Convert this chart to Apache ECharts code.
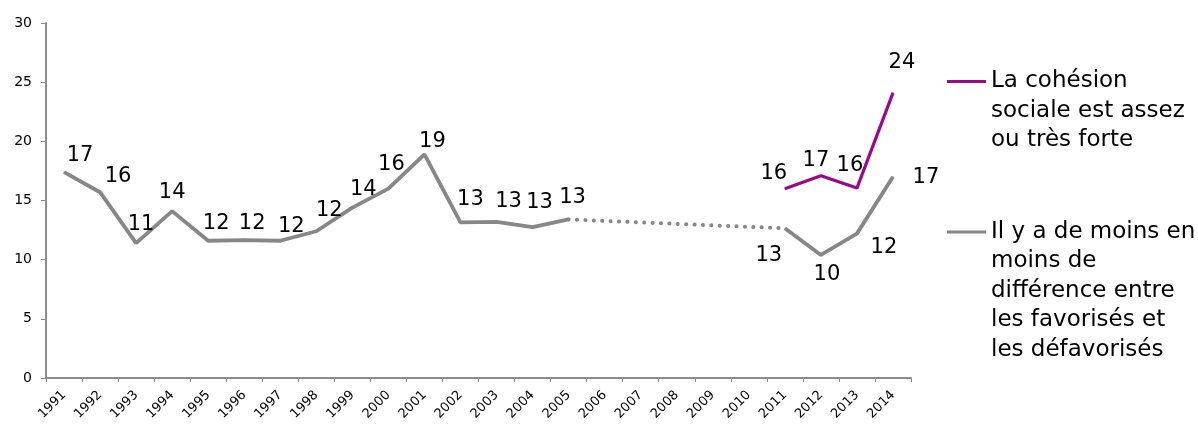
<!DOCTYPE html>
<html>
<head>
<meta charset="utf-8">
<title>Cohésion sociale</title>
<script src="https://cdn.jsdelivr.net/npm/echarts@6/dist/echarts.min.js"></script>
<style>
  html, body { margin: 0; padding: 0; background: #fff; }
  #chart { width: 1198px; height: 424px; }
</style>
</head>
<body>
<div id="chart"></div>
<script>
// Years on the category axis
const years = ['1991','1992','1993','1994','1995','1996','1997','1998','1999','2000',
  '2001','2002','2003','2004','2005','2006','2007','2008','2009','2010',
  '2011','2012','2013','2014'];

// "La cohésion sociale est assez ou très forte" (%), surveyed from 2011 only
const cohesion = ['-','-','-','-','-','-','-','-','-','-',
  '-','-','-','-','-','-','-','-','-','-',
  16.0, 17.1, 16.05, 24.1];

// "Il y a de moins en moins de différence entre les favorisés et les défavorisés" (%)
const difference = [17.4, 15.7, 11.4, 14.1, 11.6, 11.65, 11.6, 12.4, 14.4, 16.0,
  18.9, 13.15, 13.2, 12.75, 13.4, '-', '-', '-', '-', '-',
  12.65, 10.4, 12.2, 17.0];

// Gap years bridged by a dotted segment (2005 → 2011)
const differenceGap = ['-','-','-','-','-','-','-','-','-','-',
  '-','-','-','-', 13.4, '-', '-', '-', '-', '-',
  12.65, '-', '-', '-'];

// Y axis ticks
const yTicks = { min: 0, max: 30, step: 5 };

// Legend texts, one entry per line
const legendLines = {
  cohesion: ['La cohésion', 'sociale est assez', 'ou très forte'],
  difference: ['Il y a de moins en', 'moins de', 'différence entre', 'les favorisés et', 'les défavorisés']
};

// Value label placement (offset from the point, px)
const cohesionLabelOffsets = {20: [-11, -15], 21: [-5, -15], 22: [-7, -23], 23: [9, -30]};
const differenceLabelOffsets = {
  0: [16, -17], 1: [18, -16], 2: [5, -19], 3: [0, -19], 4: [8, -17], 5: [8, -17],
  6: [11, -14], 7: [13, -21], 8: [11, -18], 9: [3, -24], 10: [8, -13],
  11: [10, -23], 12: [12, -20], 13: [7, -25], 14: [4, -22],
  20: [-16, 27], 21: [6, 20], 22: [27, 14], 23: [33, 1]
};

const GREY = '#878787';
const PURPLE = '#990a87';
const FONT = 'DejaVu Sans';

function withLabels(values, offsets) {
  return values.map((v, i) => {
    if (v === '-') return v;
    return { value: v, label: { offset: offsets[i] || [0, -18] } };
  });
}

// Legend text is centred on its icon, so blank lines are put in front
// to bring the first line level with the icon.
function legendBlock(name) {
  const lines = legendLines[name];
  return new Array(lines.length - 1).fill('').concat(lines).join('\n');
}

const valueLabel = {
  show: true,
  position: 'inside',
  fontFamily: FONT,
  fontSize: 21,
  color: '#000',
  formatter: p => String(Math.round(p.value))
};

const legendCommon = {
  orient: 'vertical',
  left: 942,
  icon: 'rect',
  itemWidth: 39,
  itemHeight: 3,
  itemGap: 0,
  selectedMode: false,
  formatter: legendBlock,
  textStyle: { fontFamily: FONT, fontSize: 23, color: '#000', lineHeight: 29.5 }
};

const chart = echarts.init(document.getElementById('chart'), null, { renderer: 'canvas' });
chart.setOption({
  animation: false,
  backgroundColor: '#fff',
  grid: { left: 46, right: 287, top: 23, bottom: 46, containLabel: false },
  legend: [
    Object.assign({}, legendCommon, { top: 76.5 - 2.5 * 29.5, data: ['cohesion'] }),
    Object.assign({}, legendCommon, { top: 227 - 4.5 * 29.5, data: ['difference'] })
  ],
  xAxis: {
    type: 'category',
    data: years,
    boundaryGap: true,
    axisLine: { lineStyle: { color: '#8c8c8c', width: 2 } },
    axisTick: { show: true, length: 4, lineStyle: { color: '#8c8c8c', width: 1 } },
    axisLabel: { interval: 0, rotate: 45, margin: 15, fontFamily: FONT, fontSize: 13, color: '#000' },
    splitLine: { show: false }
  },
  yAxis: {
    type: 'value',
    min: yTicks.min,
    max: yTicks.max,
    interval: yTicks.step,
    axisLine: { show: true, lineStyle: { color: '#8c8c8c', width: 2 } },
    axisTick: { show: true, length: 5, lineStyle: { color: '#8c8c8c', width: 1 } },
    axisLabel: { margin: 14, fontFamily: FONT, fontSize: 14, color: '#000' },
    splitLine: { show: false }
  },
  series: [
    {
      name: 'difference',
      type: 'line',
      data: withLabels(difference, differenceLabelOffsets),
      symbol: 'circle',
      symbolSize: 1,
      itemStyle: { color: GREY, borderWidth: 0 },
      lineStyle: { color: GREY, width: 3.8 },
      label: valueLabel,
      connectNulls: false,
      z: 2
    },
    {
      name: 'differenceGap',
      type: 'line',
      data: differenceGap,
      symbol: 'none',
      connectNulls: true,
      lineStyle: { color: GREY, width: 4, type: [0.1, 8.3], cap: 'round' },
      z: 1
    },
    {
      name: 'cohesion',
      type: 'line',
      data: withLabels(cohesion, cohesionLabelOffsets),
      symbol: 'circle',
      symbolSize: 1,
      itemStyle: { color: PURPLE, borderWidth: 0 },
      lineStyle: { color: PURPLE, width: 3.2 },
      label: valueLabel,
      z: 3
    }
  ]
});
</script>
</body>
</html>
